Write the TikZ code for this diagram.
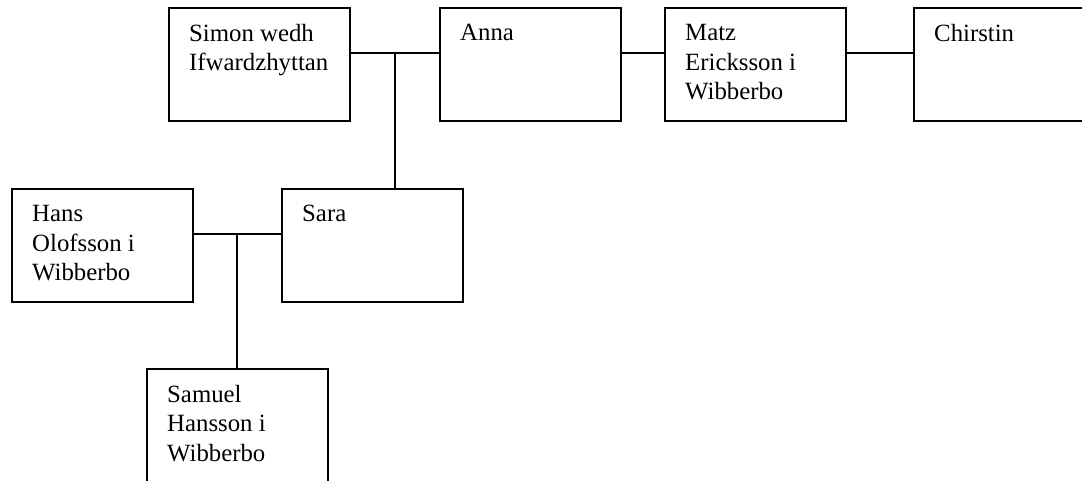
\documentclass[tikz,border=0pt]{standalone}
\usepackage{fontspec}
\setmainfont{Liberation Serif}
\usetikzlibrary{calc}
\begin{document}
\begin{tikzpicture}[x=1pt,y=-1pt,
  box/.style={draw=black, line width=1.8pt, fill=white, minimum width=181pt, minimum height=113pt, anchor=north west, inner sep=0pt, outer sep=0pt},
  lbl/.style={anchor=north west, inner sep=0pt, align=left, font=\fontsize{24.8}{29.5}\selectfont},
  link/.style={draw=black, line width=1.8pt}]
\useasboundingbox (0,0) rectangle (1082,481);
% boxes
\node[box] (simon) at (169,8) {};
\node[box] (anna) at (440,8) {};
\node[box] (matz) at (665,8) {};
\node[box] (chirstin) at (914,8) {};
\node[box] (hans) at (12,189) {};
\node[box] (sara) at (282,189) {};
\node[box] (samuel) at (147,369) {};
% labels
\newcommand{\lstrut}{\rule{0pt}{16.5pt}}
\node[lbl] (tsimon) at ($(simon.north west)+(20,16)$) {\lstrut Simon wedh\\Ifwardzhyttan};
\node[lbl] (tanna) at ($(anna.north west)+(20,16)$) {\lstrut Anna};
\node[lbl] (tmatz) at ($(matz.north west)+(20,16)$) {\lstrut Matz\\Ericksson i\\Wibberbo};
\node[lbl] (tchirstin) at ($(chirstin.north west)+(20,16)$) {\lstrut Chirstin};
\node[lbl] (thans) at ($(hans.north west)+(20,16)$) {\lstrut Hans\\Olofsson i\\Wibberbo};
\node[lbl] (tsara) at ($(sara.north west)+(20,16)$) {\lstrut Sara};
\node[lbl] (tsamuel) at ($(samuel.north west)+(20,16)$) {\lstrut Samuel\\Hansson i\\Wibberbo};
% junctions
\coordinate (j1) at (395,53);
\coordinate (j2) at (237,234);
\coordinate (j3) at (643,53);
\coordinate (j4) at (880,53);
% connectors
\draw[link] (j1 -| simon.east) -- (j1 -| anna.west);
\draw[link] (j1) -- (j1 |- sara.north);
\draw[link] (j3 -| anna.east) -- (j3 -| matz.west);
\draw[link] (j4 -| matz.east) -- (j4 -| chirstin.west);
\draw[link] (j2 -| hans.east) -- (j2 -| sara.west);
\draw[link] (j2) -- (j2 |- samuel.north);
\end{tikzpicture}
\end{document}
